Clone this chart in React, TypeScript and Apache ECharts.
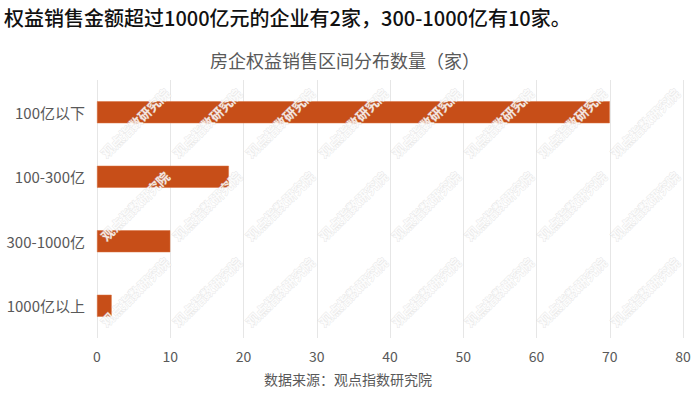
import React, { useEffect, useRef } from "react";
import * as echarts from "echarts";

const heading = "权益销售金额超过1000亿元的企业有2家，300-1000亿有10家。";
const chartTitle = "房企权益销售区间分布数量（家）";
const sourceText = "数据来源：观点指数研究院";
const watermarkText = "观点指数研究院";

const categories = ["100亿以下", "100-300亿", "300-1000亿", "1000亿以上"];
const counts = [70, 18, 10, 2];
const xTicks = [0, 10, 20, 30, 40, 50, 60, 70, 80];

export default function App() {
  const ref = useRef<HTMLDivElement>(null);
  useEffect(() => {
    if (!ref.current) return;
    const chart = echarts.init(ref.current, undefined, { renderer: "svg" });

    const wmCols = [135, 207, 280, 353, 426, 499, 572, 645];
    const wmRows = [123, 206, 292];
    const watermarks: any[] = [];
    wmRows.forEach((y) =>
      wmCols.forEach((x) =>
        watermarks.push({
          type: "text",
          x,
          y,
          rotation: Math.PI / 4,
          z: 100,
          silent: true,
          style: {
            text: watermarkText,
            x: 0,
            y: 0,
            align: "center",
            verticalAlign: "middle",
            font: 'bold 13px "Noto Sans CJK SC"',
            fill: "rgba(255,255,255,0.85)",
            stroke: "rgba(190,190,190,0.35)",
            lineWidth: 1,
          },
        })
      )
    );

    chart.setOption({
      animation: false,
      backgroundColor: "#ffffff",
      grid: { left: 97, right: 17, top: 80, bottom: 56, containLabel: false },
      xAxis: {
        type: "value",
        min: xTicks[0],
        max: xTicks[xTicks.length - 1],
        interval: 10,
        axisLine: { show: false },
        axisTick: { show: false },
        splitLine: { show: true, lineStyle: { color: "#e6e6e6", width: 1 } },
        axisLabel: {
          color: "#595959",
          fontSize: 14,
          margin: 11,
          fontFamily: '"Noto Sans CJK SC", sans-serif',
        },
      },
      yAxis: {
        type: "category",
        data: categories,
        inverse: true,
        axisLine: { show: false },
        axisTick: { show: false },
        splitLine: { show: false },
        axisLabel: {
          color: "#595959",
          fontSize: 15,
          margin: 12,
          fontFamily: '"Noto Sans CJK SC", sans-serif',
        },
      },
      series: [
        {
          type: "bar",
          data: counts,
          barWidth: 22,
          itemStyle: { color: "#C74E18", borderColor: "#D8703F", borderWidth: 0.5 },
        },
      ],
      graphic: [
        {
          type: "text",
          left: 4,
          top: 7,
          style: {
            text: heading,
            font: '500 20px "Noto Sans CJK SC"',
            fill: "#111111",
          },
        },
        {
          type: "text",
          x: 345,
          y: 60,
          style: {
            text: chartTitle,
            x: 0,
            y: 0,
            align: "center",
            verticalAlign: "middle",
            font: '18px "Noto Sans CJK SC"',
            fill: "#595959",
          },
        },
        {
          type: "text",
          x: 348,
          y: 379,
          style: {
            text: sourceText,
            x: 0,
            y: 0,
            align: "center",
            verticalAlign: "middle",
            font: '14px "Noto Sans CJK SC"',
            fill: "#595959",
          },
        },
        ...watermarks,
      ],
    });
    return () => chart.dispose();
  }, []);
  return <div ref={ref} style={{ width: 700, height: 394, position: "fixed", left: 0, top: 0 }} />;
}
